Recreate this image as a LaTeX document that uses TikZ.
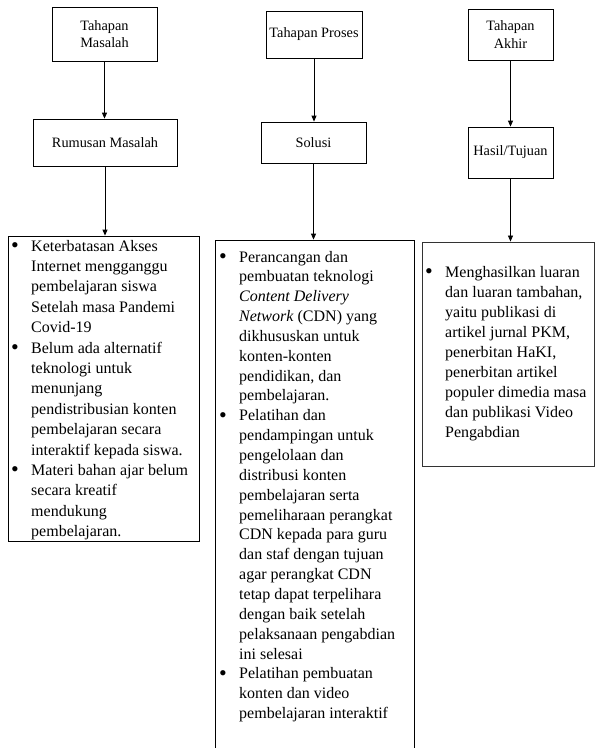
\documentclass[tikz,border=0pt]{standalone}
\usepackage{fontspec}
\setmainfont{Liberation Serif}
\usetikzlibrary{arrows.meta}

% bullet and hanging indent for the hand-broken lists
\newcommand\lbul{\makebox[20pt][l]{\raisebox{-1.3pt}{\fontsize{22}{20}\selectfont\textbullet}}}
\newcommand\lind{\hspace{20pt}}

\tikzset{
  stage/.style={draw=black, line width=0.8pt, rectangle, inner sep=0pt,
    align=center, font=\fontsize{14.3}{17.5}\selectfont},
  listbox/.style={draw=black, line width=0.8pt, rectangle, inner sep=0pt},
  listtext/.style={inner sep=0pt, anchor=base west},
  flow/.style={draw=black, line width=0.8pt, -{Triangle[length=6pt,width=5pt]}}
}

\begin{document}
\begin{tikzpicture}[x=1pt, y=-1pt]
\useasboundingbox (0,0) rectangle (595,748);
\clip (0,0) rectangle (595,748);
\fill[white] (0,0) rectangle (595,748);

% stage headers
\node[stage, minimum width=105pt, minimum height=54pt] (tm) at (104.5,34) {Tahapan\\Masalah};
\node[stage, minimum width=96pt, minimum height=47pt] (tp) at (314,34.5) {Tahapan Proses};
\node[stage, minimum width=85pt, minimum height=51pt] (ta) at (510.5,34.5) {Tahapan\\Akhir};

% second level
\node[stage, minimum width=144pt, minimum height=47pt] (rm) at (105,142.5) {Rumusan Masalah};
\node[stage, minimum width=105pt, minimum height=41pt] (so) at (313.5,142.5) {Solusi};
\node[stage, minimum width=85pt, minimum height=51pt] (hs) at (510.5,152.5) {Hasil/Tujuan};

% list frames
\node[listbox, minimum width=191pt, minimum height=305pt] (l1) at (103.5,388.5) {};
\node[listbox, minimum width=199pt, minimum height=540pt] (l2) at (314.5,510) {};
\node[listbox, draw=black!80, line width=0.9pt, minimum width=172pt, minimum height=224pt] (l3) at (508,354) {};

% list contents
\node[listtext, font=\fontsize{16}{20.4}\selectfont] (t1) at (11,251) {\begin{tabular}[t]{@{}l@{}}
\lbul Keterbatasan Akses\\
\lind Internet mengganggu\\
\lind pembelajaran siswa\\
\lind Setelah masa Pandemi\\
\lind Covid-19\\
\lbul Belum ada alternatif\\
\lind teknologi untuk\\
\lind menunjang\\
\lind pendistribusian konten\\
\lind pembelajaran secara\\
\lind interaktif kepada siswa.\\
\lbul Materi bahan ajar belum\\
\lind secara kreatif\\
\lind mendukung\\
\lind pembelajaran.
\end{tabular}};

\node[listtext, font=\fontsize{16}{19.85}\selectfont] (t2) at (219,262) {\begin{tabular}[t]{@{}l@{}}
\lbul Perancangan dan\\
\lind pembuatan teknologi\\
\lind \textit{Content Delivery}\\
\lind \textit{Network} (CDN) yang\\
\lind dikhususkan untuk\\
\lind konten-konten\\
\lind pendidikan, dan\\
\lind pembelajaran.\\
\lbul Pelatihan dan\\
\lind pendampingan untuk\\
\lind pengelolaan dan\\
\lind distribusi konten\\
\lind pembelajaran serta\\
\lind pemeliharaan perangkat\\
\lind CDN kepada para guru\\
\lind dan staf dengan tujuan\\
\lind agar perangkat CDN\\
\lind tetap dapat terpelihara\\
\lind dengan baik setelah\\
\lind pelaksanaan pengabdian\\
\lind ini selesai\\
\lbul Pelatihan pembuatan\\
\lind konten dan video\\
\lind pembelajaran interaktif
\end{tabular}};

\node[listtext, font=\fontsize{16}{20.1}\selectfont] (t3) at (425,277) {\begin{tabular}[t]{@{}l@{}}
\lbul Menghasilkan luaran\\
\lind dan luaran tambahan,\\
\lind yaitu publikasi di\\
\lind artikel jurnal PKM,\\
\lind penerbitan HaKI,\\
\lind penerbitan artikel\\
\lind populer dimedia masa\\
\lind dan publikasi Video\\
\lind Pengabdian
\end{tabular}};

% connectors
\draw[flow] (tm.south) -- (tm.south |- rm.north);
\draw[flow] (tp.south) -- (tp.south |- so.north);
\draw[flow] (ta.south) -- (ta.south |- hs.north);
\draw[flow] (rm.south) -- (rm.south |- l1.north);
\draw[flow] (so.south) -- (so.south |- l2.north);
\draw[flow] (hs.south) -- (hs.south |- l3.north);
\end{tikzpicture}
\end{document}
